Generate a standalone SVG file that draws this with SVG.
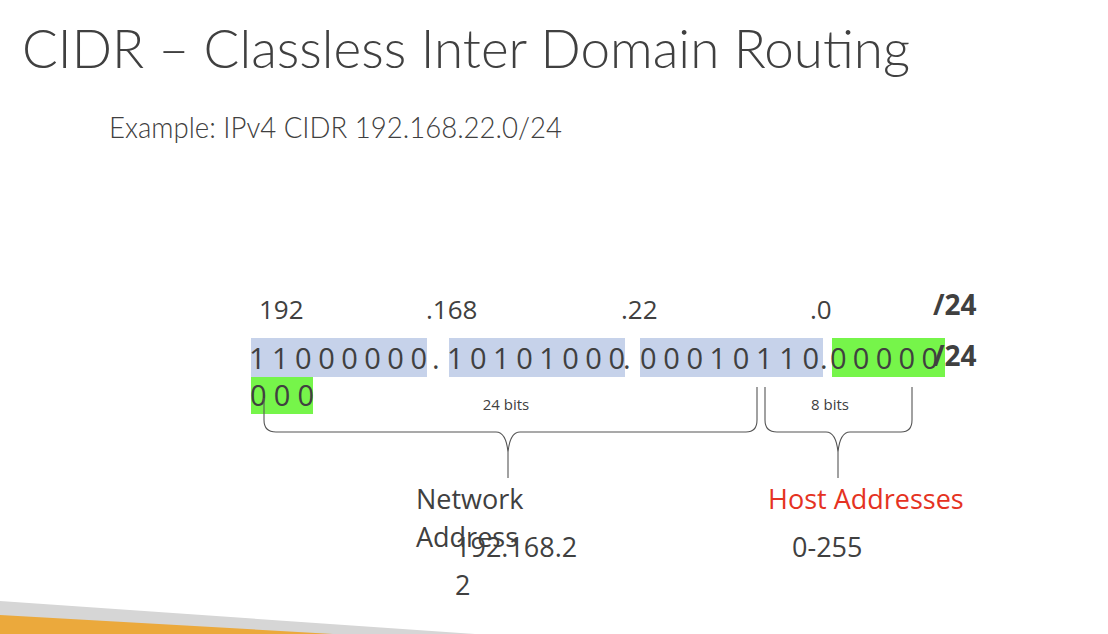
<svg xmlns="http://www.w3.org/2000/svg" width="1108" height="634" viewBox="0 0 1108 634">
<style>
.t{font-family:"Open Sans","Liberation Sans",sans-serif;fill:#404040}
.g{font-family:Lato,"Open Sans",sans-serif;font-weight:300;fill:#404040}
.b{font-weight:bold}
.br{fill:none;stroke:#555;stroke-width:1.1}
</style>
<rect width="1108" height="634" fill="#fff"/>
<g id="footer">
<polygon points="0,601 475,634 0,634" fill="#d6d6d6"/>
<polygon points="0,615 333,634 0,634" fill="#eba93c"/>
</g>
<g id="title">
<text class="g" x="22" y="68" font-size="54" textLength="888" lengthAdjust="spacingAndGlyphs">CIDR – Classless Inter Domain Routing</text>
<text class="g" x="109" y="138" font-size="29" textLength="453" lengthAdjust="spacingAndGlyphs">Example: IPv4 CIDR 192.168.22.0/24</text>
</g>
<g id="decimal">
<text class="t" x="259" y="319" font-size="26">192</text>
<text class="t" x="426" y="319" font-size="26">.168</text>
<text class="t" x="621" y="319" font-size="26">.22</text>
<text class="t" x="810" y="319" font-size="26">.0</text>
<text class="t b" x="933" y="315" font-size="28">/24</text>
</g>
<g id="binary">
<rect x="251" y="338" width="176" height="39" fill="#c6d2ea"/>
<rect x="449" y="338" width="176" height="39" fill="#c6d2ea"/>
<rect x="640" y="338" width="183" height="39" fill="#c6d2ea"/>
<rect x="832" y="338" width="113" height="39" fill="#76f54a"/>
<rect x="251" y="377" width="62" height="37" fill="#76f54a"/>
<text class="t" x="249" y="369" font-size="29" textLength="178" lengthAdjust="spacing">1 1 0 0 0 0 0 0</text>
<text class="t" x="432" y="369" font-size="29">.</text>
<text class="t" x="447" y="369" font-size="29" textLength="178" lengthAdjust="spacing">1 0 1 0 1 0 0 0</text>
<text class="t" x="623" y="369" font-size="29">.</text>
<text class="t" x="640" y="369" font-size="29" textLength="179" lengthAdjust="spacing">0 0 0 1 0 1 1 0</text>
<text class="t" x="820" y="369" font-size="29">.</text>
<text class="t" x="830" y="369" font-size="29" textLength="108" lengthAdjust="spacing">0 0 0 0 0</text>
<text class="t b" x="933" y="366" font-size="28">/24</text>
<text class="t" x="250" y="406" font-size="29" textLength="64" lengthAdjust="spacing">0 0 0</text>
</g>
<g id="connectors">
<path class="br" d="M264,398 V420 Q264,432 276,432 H496 Q506,432 508,452 V478 M508,452 Q510,432 520,432 H746 Q757,432 757,420 V387"/>
<path class="br" d="M765,387 V420 Q765,432 777,432 H826 Q836,432 838,452 V478 M838,452 Q840,432 850,432 H901 Q912,432 912,420 V387"/>
</g>
<g id="labels">
<text class="t" x="506" y="410" font-size="15" text-anchor="middle">24 bits</text>
<text class="t" x="830" y="410" font-size="15" text-anchor="middle">8 bits</text>
</g>
<g id="network">
<text class="t" x="416" y="509" font-size="27">Network</text>
<text class="t" x="416" y="547" font-size="27">Address</text>
<text class="t" x="455" y="557" font-size="27">192.168.2</text>
<text class="t" x="455" y="595" font-size="27">2</text>
</g>
<g id="host">
<text class="t" x="768" y="509" font-size="27" style="fill:#e53222">Host Addresses</text>
<text class="t" x="792" y="557" font-size="27">0-255</text>
</g>
</svg>
